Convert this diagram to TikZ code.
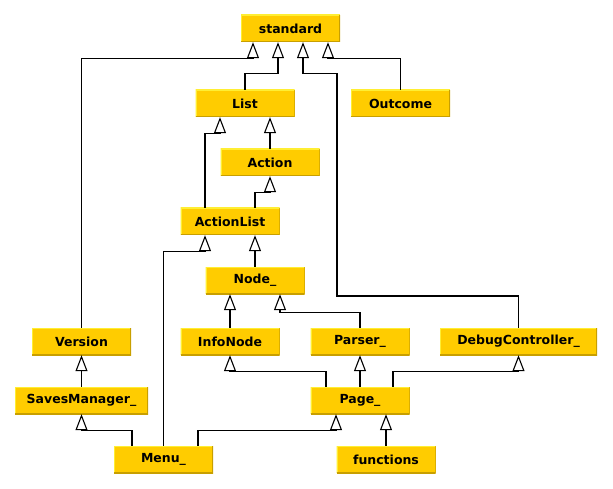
\documentclass[tikz,border=0pt]{standalone}
\usepackage{fontspec}
\newfontfamily\clsfont{DejaVu Sans}
\usetikzlibrary{arrows.meta, positioning, calc}

\definecolor{clsfill}{HTML}{FFCC00}
\definecolor{clslite}{HTML}{FFEE33}
\definecolor{clsdark}{HTML}{C89F00}

\begin{document}
\begin{tikzpicture}[x=1pt, y=-1pt, line cap=butt, line join=miter,
    cls/.style={fill=clsfill, minimum width=99pt, minimum height=27pt,
      inner sep=0pt, font=\clsfont\bfseries\fontsize{12.5}{14}\selectfont,
      path picture={
        \draw[clslite, line width=2pt] (path picture bounding box.south west)
          |- (path picture bounding box.north east);
        \draw[clsdark, line width=2pt] (path picture bounding box.south west)
          -| (path picture bounding box.north east);}},
    inh/.style={line width=1.1pt, -{Triangle[open, length=16pt, width=12pt]}}]
  \useasboundingbox (0,0) rectangle (613,489);
  % --- classes ---------------------------------------------------------
  \node[cls] (std)     at (290.5,28.5) {standard};
  \node[cls] (list)    at (245,103.5)  {List};
  \node[cls] (outcome) at (400.5,103.5) {Outcome};
  \node[cls] (action)  at (270,162.5)  {Action};
  \node[cls] (actlist) at (230,221.5)  {ActionList};
  \node[cls] (node)    at (255,280.5)  {Node\_};
  \node[cls] (version) at (81.5,341.5) {Version};
  \node[cls] (info)    at (230,341.5)  {InfoNode};
  \node[cls] (parser)  at (360,341.5)  {Parser\_};
  \node[cls, minimum width=157pt] (debug) at (518.5,341.5) {DebugController\_};
  \node[cls, minimum width=133pt] (saves) at (81.5,400.5) {SavesManager\_};
  \node[cls] (page)    at (360,400.5)  {Page\_};
  \node[cls] (menu)    at (163.5,459.5) {Menu\_};
  \node[cls] (funcs)   at (386,459.5)  {functions};
  % --- generalisations to standard ---------------------------------------
  \draw[inh] (version.north) |- ([xshift=-37.5,yshift=-16]std.south)
     -- ([xshift=-37.5]std.south);
  \draw[inh] (list.north) |- ([xshift=-12.5,yshift=-31]std.south)
     -- ([xshift=-12.5]std.south);
  \draw[inh] (debug.north) |- (337,296) |- ([xshift=12.5,yshift=-31]std.south)
     -- ([xshift=12.5]std.south);
  \draw[inh] (outcome.north) |- ([xshift=37.5,yshift=-16]std.south)
     -- ([xshift=37.5]std.south);
  % --- list / action chain ----------------------------------------------
  \draw[inh] ([xshift=-25]actlist.north) |- ([xshift=-25,yshift=-16]list.south)
     -- ([xshift=-25]list.south);
  \draw[inh] (action.north) -- ([xshift=25]list.south);
  \draw[inh] ([xshift=25]actlist.north) |- ([yshift=-16]action.south)
     -- (action.south);
  \draw[inh] (node.north) -- ([xshift=25]actlist.south);
  \draw[inh] (menu.north) |- ([xshift=-25,yshift=-16]actlist.south)
     -- ([xshift=-25]actlist.south);
  % --- nodes --------------------------------------------------------------
  \draw[inh] (info.north) -- ([xshift=-25]node.south);
  \draw[inh] (parser.north) |- ([xshift=25,yshift=-18]node.south)
     -- ([xshift=25]node.south);
  % --- page -----------------------------------------------------------------
  \draw[inh] ([xshift=-34]page.north) |- ([yshift=-16]info.south) -- (info.south);
  \draw[inh] (page.north) -- (parser.south);
  \draw[inh] ([xshift=33]page.north) |- ([yshift=-16]debug.south) -- (debug.south);
  \draw[inh] (funcs.north) -- ([xshift=26]page.south);
  % --- menu and saves -------------------------------------------------------
  \draw[inh] ([xshift=34.5]menu.north) |- ([xshift=-24,yshift=-16]page.south)
     -- ([xshift=-24]page.south);
  \draw[inh] ([xshift=-31.5]menu.north) |- ([yshift=-16]saves.south)
     -- (saves.south);
  \draw[inh] (saves.north) -- (version.south);
\end{tikzpicture}
\end{document}
